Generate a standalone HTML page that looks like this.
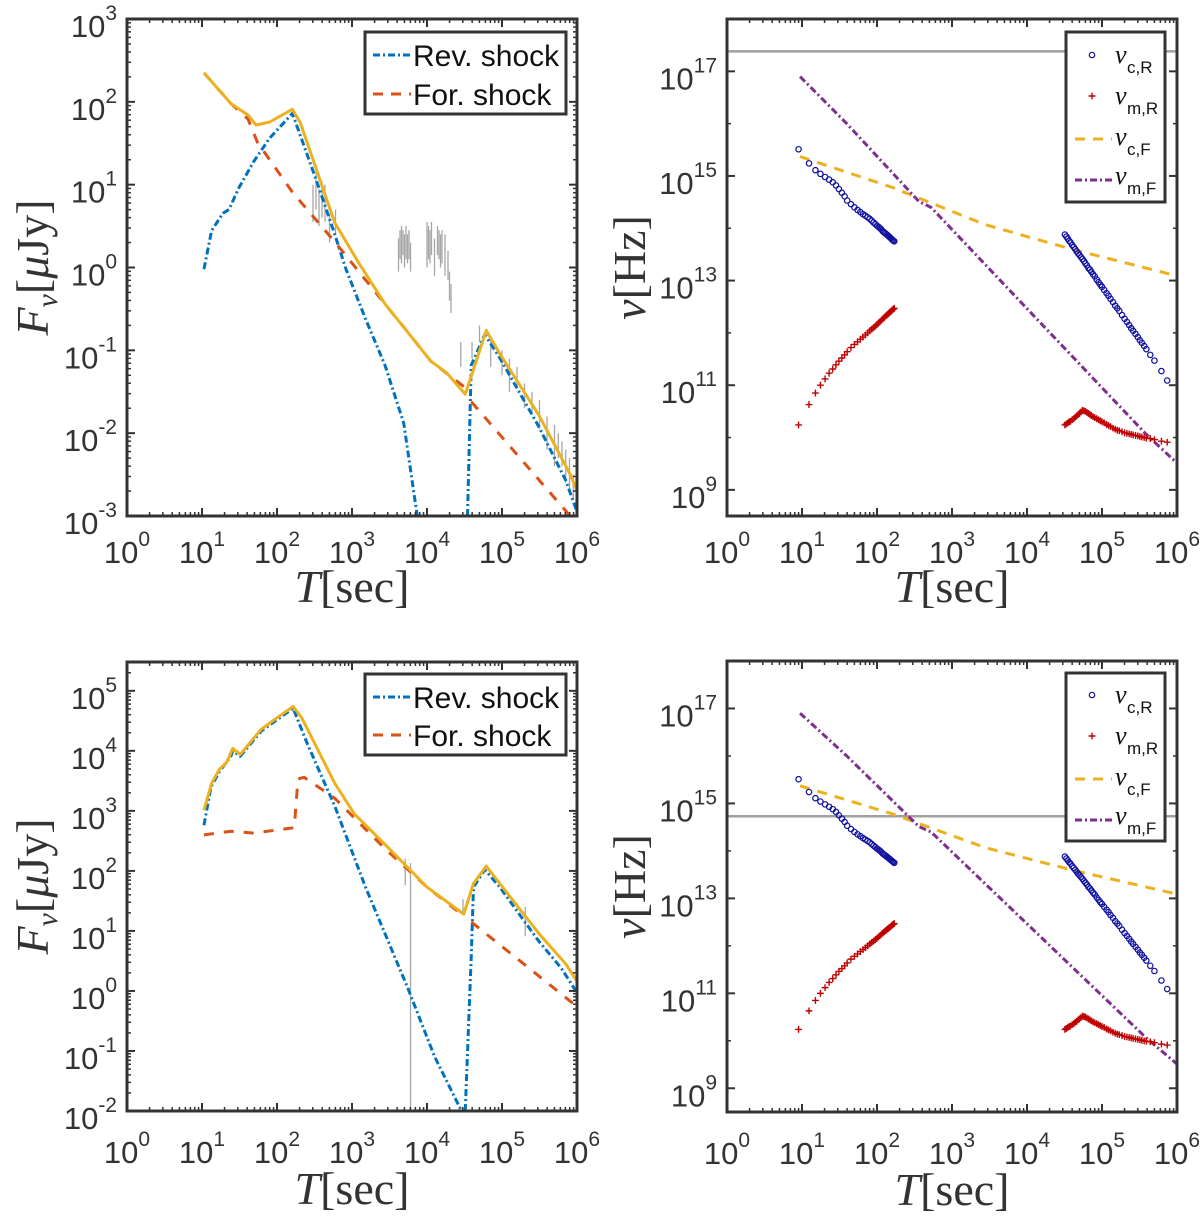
<!DOCTYPE html>
<html><head><meta charset="utf-8"><style>
html,body{margin:0;padding:0;background:#fff;}
svg{display:block;}
</style></head><body>
<svg id="fig" xmlns="http://www.w3.org/2000/svg" width="1200" height="1218" viewBox="0 0 1200 1218"></svg>
<script>
// ---------- DATA (log10 units) ----------
const tlTotX = [1.026,1.385,1.615,1.72,1.90,2.205,2.31,2.77,3.08,3.44,3.69,4.05,4.26,4.51,4.62,4.79,4.97,5.49,5.90,6.0];
const tlTotY = [2.35,1.98,1.84,1.72,1.755,1.91,1.75,0.54,0.07,-0.44,-0.72,-1.13,-1.27,-1.53,-1.23,-0.76,-1.04,-1.78,-2.48,-2.69];
const tlRev1X = [1.026,1.128,1.28,1.36,1.49,1.69,1.90,2.205,2.36,2.56,2.77,2.92,3.18,3.44,3.69,3.87];
const tlRev1Y = [-0.02,0.445,0.655,0.70,0.96,1.28,1.56,1.86,1.47,0.96,0.40,-0.02,-0.62,-1.18,-1.88,-3.0];
const tlRev2X = [4.54,4.59,4.77,4.97,5.49,5.85,6.0];
const tlRev2Y = [-3.0,-1.18,-0.81,-1.09,-1.92,-2.57,-2.95];
const tlForX = [1.026,1.385,1.615,1.74,2.205,2.77,3.44,3.69,4.05,4.51];
const tlForY = [2.35,1.98,1.79,1.51,0.91,0.31,-0.44,-0.72,-1.13,-1.45];
const tlFor2X = [4.59,5.9];
const tlFor2Y = [-1.62,-2.99];
const tlObsX = [2.48,2.52,2.56,2.6,2.64,2.7,2.78,3.62,3.64,3.66,3.68,3.7,3.72,3.74,3.76,3.78,4.0,4.02,4.04,4.06,4.1,4.14,4.16,4.18,4.2,4.24,4.28,4.3,4.32,4.45,4.6,4.7,4.85,5.0,5.1,5.2,5.3,5.4,5.5,5.6,5.7,5.75,5.8,5.85,5.9,5.95];
const tlObsLo = [0.55,0.7,0.5,0.6,0.55,0.3,0.4,-0.05,0.1,0.05,0.15,0.0,0.1,0.05,0.1,-0.05,0.0,0.1,0.05,0.15,-0.1,0.15,0.1,0.0,0.05,-0.1,-0.15,-0.4,-0.55,-1.2,-1.1,-0.9,-1.2,-1.3,-1.5,-1.45,-1.7,-1.75,-1.95,-2.2,-2.4,-2.3,-2.4,-2.6,-2.7,-2.8];
const tlObsHi = [1.0,1.2,0.95,1.05,1.0,0.65,0.7,0.35,0.45,0.5,0.45,0.4,0.5,0.4,0.45,0.3,0.55,0.5,0.45,0.55,0.35,0.5,0.45,0.4,0.45,0.4,0.2,-0.05,-0.2,-0.9,-0.9,-0.7,-0.85,-1.0,-1.1,-1.2,-1.4,-1.5,-1.6,-1.8,-1.9,-2.0,-2.1,-2.2,-2.3,-2.5];
const blTotX = [1.026,1.128,1.23,1.33,1.41,1.51,1.79,2.0,2.215,2.33,2.77,3.03,3.44,4.0,4.49,4.62,4.79,4.97,5.49,5.85,6.0];
const blTotY = [3.01,3.46,3.69,3.81,4.04,3.94,4.36,4.55,4.74,4.55,3.46,2.95,2.44,1.73,1.28,1.79,2.08,1.79,0.96,0.45,0.16];
const blRev1X = [1.026,1.12,1.23,1.385,1.41,1.51,1.79,2.215,2.41,2.77,3.18,3.74,4.1,4.46];
const blRev1Y = [2.76,3.40,3.65,3.91,4.0,3.91,4.33,4.71,4.10,3.08,1.73,0.06,-1.09,-2.0];
const blRev2X = [4.51,4.59,4.62,4.77,4.97,5.49,5.79,6.0];
const blRev2Y = [-2.0,0.58,1.73,2.02,1.73,0.83,0.38,-0.03];
const blForX = [1.026,1.385,1.69,2.23,2.28,2.36,2.77,3.44,4.0,4.49];
const blForY = [2.60,2.66,2.63,2.72,3.53,3.56,3.21,2.37,1.73,1.25];
const blFor2X = [4.59,5.23,6.0];
const blFor2Y = [1.15,0.51,-0.26];
const blObsX = [3.78,3.71,4.48,5.31];
const blObsLo = [-2.0,1.76,1.27,0.91];
const blObsHi = [2.13,2.2,1.53,1.4];
const cr1T = [9,12.4,15.1,17.6,20.3,23,25.7,28.4,31,34,37,40,45,50,55,60,65,70,75,80,85,90,95,100,105,110,115,120,125,130,135,140,145,150,155,160,165,170];
const cr1V = [15.51,15.24,15.11,15.04,14.98,14.93,14.88,14.82,14.75,14.68,14.61,14.53,14.46,14.40,14.35,14.31,14.27,14.24,14.21,14.18,14.145,14.11,14.08,14.05,14.025,14.0,13.97,13.94,13.92,13.9,13.88,13.86,13.84,13.82,13.80,13.78,13.765,13.75];
const mr1V = [10.24,10.63,10.85,11.0,11.12,11.23,11.31,11.39,11.46,11.52,11.58,11.64,11.72,11.78,11.83,11.88,11.92,11.96,12.0,12.04,12.07,12.1,12.13,12.16,12.19,12.22,12.245,12.27,12.295,12.32,12.34,12.36,12.38,12.4,12.42,12.44,12.455,12.47];
const cr2T = [32000,33500,35000,36500,38000,40000,42000,44000,46000,48000,50000,52500,55000,57500,60000,63000,66000,69000,72000,76000,80000,85000,90000,95000,100000,107000,115000,122000,130000,140000,150000,160000,170000,185000,200000,215000,230000,245000,260000,280000,300000,320000,340000,365000,390000,440000,500000,620000,740000];
const cr2V = [13.88,13.84,13.80,13.76,13.73,13.68,13.64,13.60,13.56,13.52,13.49,13.45,13.41,13.37,13.33,13.29,13.24,13.21,13.17,13.12,13.08,13.02,12.97,12.92,12.88,12.82,12.76,12.71,12.65,12.59,12.52,12.47,12.42,12.34,12.27,12.21,12.15,12.09,12.04,11.98,11.92,11.86,11.81,11.75,11.69,11.58,11.47,11.27,11.09];
const mr2V = [10.24,10.26,10.28,10.30,10.31,10.34,10.36,10.39,10.41,10.44,10.46,10.49,10.52,10.51,10.50,10.48,10.46,10.44,10.42,10.40,10.38,10.36,10.34,10.32,10.30,10.28,10.25,10.23,10.21,10.18,10.16,10.14,10.13,10.11,10.09,10.08,10.07,10.06,10.05,10.04,10.03,10.02,10.01,10.00,9.99,9.98,9.96,9.93,9.91];
const mfX = [0.974,1.59,2.205,2.56,2.72,5.59,6.0];
const mfY = [16.90,16.01,15.06,14.51,14.40,10.06,9.51];
const cfX = [0.974,2.205,3.44,4.62,6.0];
const cfY = [15.37,14.78,14.07,13.59,13.09];
const trBand = [17.38];
const brBand = [14.73];
const xTickExp = [0,1,2,3,4,5,6];
const tlYTickExp = [-3,-2,-1,0,1,2,3];
const blYTickExp = [-2,-1,0,1,2,3,4,5];
const rYTickExp = [9,11,13,15,17];

// ---------- DRAWING ----------
const NS='http://www.w3.org/2000/svg';
const fig=document.getElementById('fig');
function el(tag,attrs,parent){const e=document.createElementNS(NS,tag);for(const k in attrs)e.setAttribute(k,attrs[k]);(parent||fig).appendChild(e);return e;}
const AX='#333333';
const C={blue:'#0072BD',red:'#D95319',yel:'#EDB120',pur:'#7E2F8E',navy:'#1010a0',dred:'#c00000',gray:'#a6a6a6'};
let clipId=0;

function makePanel(p){
  const g=el('g',{});
  
  
  const sx=v=>p.L+(v-0)/6*(p.R-p.L);
  const sy=v=>p.T+(p.ymax-v)/(p.ymax-p.ymin)*(p.B-p.T);
  const cid='clip'+(clipId++);
  const cp=el('clipPath',{id:cid},g);el('rect',{x:p.L,y:p.T,width:p.R-p.L,height:p.B-p.T},cp);
  const plot=el('g',{'clip-path':'url(#'+cid+')'},g);
  
  
  p.sx=sx;p.sy=sy;p.plot=plot;p.g=g;
  return p;
}
function polyline(p,xs,ys,color,dash,w,name){
  const pts=xs.map((x,i)=>p.sx(x)+','+p.sy(ys[i])).join(' ');
  const e=el('polyline',{points:pts,fill:'none',stroke:color,'stroke-width':w||3,'stroke-dasharray':dash||'none','stroke-linejoin':'round'},p.plot);
  
  
  return e;
}
function obs(p,xs,lo,hi,name){
  xs.forEach((x,i)=>{
    const e=el('line',{x1:p.sx(x),x2:p.sx(x),y1:p.sy(lo[i]),y2:p.sy(hi[i]),stroke:C.gray,'stroke-width':1.3},p.plot);
    
    
  });
}
function circles(p,ts,vs,name){
  ts.forEach((t,i)=>{
    const e=el('circle',{cx:p.sx(Math.log10(t)),cy:p.sy(vs[i]),r:2.7,fill:'none',stroke:C.navy,'stroke-width':1.2},p.plot);
    
    
  });
}
function pluses(p,ts,vs,name){
  ts.forEach((t,i)=>{
    const x=p.sx(Math.log10(t)),y=p.sy(vs[i]);
    const e=el('path',{d:`M${x-3.4},${y}h6.8M${x},${y-3.4}v6.8`,stroke:C.dred,'stroke-width':1.4,fill:'none'},p.plot);
    
    
  });
}
function hband(p,v,name){
  const e=el('line',{x1:p.L,x2:p.R,y1:p.sy(v),y2:p.sy(v),stroke:'#a0a0a0','stroke-width':2.5},p.plot);
  
  
}
function supText(x,y,exp,anchor,parent,name){
  const t=el('text',{x:x,y:y,'text-anchor':anchor,'font-family':'Liberation Sans, sans-serif','font-size':31,fill:'#333'},parent);
  
  
  const a=el('tspan',{},t);a.textContent='10';
  const b=el('tspan',{dy:-17,'font-size':21},t);b.textContent=String(exp);
  return t;
}
function axes(p){
  const g=p.g;
  for(let d=0;d<6;d++)for(let k=2;k<=9;k++){
    const x=p.sx(d+Math.log10(k));
    el('line',{x1:x,x2:x,y1:p.B,y2:p.B-4,stroke:AX,'stroke-width':1.5},g);
    el('line',{x1:x,x2:x,y1:p.T,y2:p.T+4,stroke:AX,'stroke-width':1.5},g);
  }
  xTickExp.forEach(e=>{
    const x=p.sx(e);
    el('line',{x1:x,x2:x,y1:p.B,y2:p.B-8,stroke:AX,'stroke-width':2},g);
    el('line',{x1:x,x2:x,y1:p.T,y2:p.T+8,stroke:AX,'stroke-width':2},g);
    supText(x,p.B+p.xlab,e,'middle',g,'x-tick-label');
  });
  if(p.ydec){
    for(let d=Math.floor(p.ymin);d<Math.ceil(p.ymax);d++)for(let k=2;k<=9;k++){
      const v=d+Math.log10(k); if(v<=p.ymin||v>=p.ymax)continue;
      const y=p.sy(v);
      el('line',{x1:p.L,x2:p.L+4,y1:y,y2:y,stroke:AX,'stroke-width':1.5},g);
      el('line',{x1:p.R,x2:p.R-4,y1:y,y2:y,stroke:AX,'stroke-width':1.5},g);
    }
  } else {
    for(let v=Math.ceil(p.ymin);v<=p.ymax;v++){
      const y=p.sy(v);
      el('line',{x1:p.L,x2:p.L+4,y1:y,y2:y,stroke:AX,'stroke-width':1.5},g);
      el('line',{x1:p.R,x2:p.R-4,y1:y,y2:y,stroke:AX,'stroke-width':1.5},g);
    }
  }
  p.yticks.forEach(e=>{
    const y=p.sy(e);
    el('line',{x1:p.L,x2:p.L+8,y1:y,y2:y,stroke:AX,'stroke-width':2},g);
    el('line',{x1:p.R,x2:p.R-8,y1:y,y2:y,stroke:AX,'stroke-width':2},g);
    supText(p.L-10,y+18,e,'end',g,'y-tick-label');
  });
  const box=el('rect',{x:p.L,y:p.T,width:p.R-p.L,height:p.B-p.T,fill:'none',stroke:AX,'stroke-width':3},g);
  
  
  const xl=el('text',{x:(p.L+p.R)/2,y:p.B+p.xtitle,'text-anchor':'middle','font-family':'Liberation Serif, serif','font-size':46,fill:'#333'},g);
  
  
  const t1=el('tspan',{'font-style':'italic'},xl);t1.textContent='T';
  const t2=el('tspan',{},xl);t2.textContent='[sec]';
  const yc=(p.T+p.B)/2;
  const yl=el('text',{transform:`translate(${p.L-p.ytitle},${yc}) rotate(-90)`,'text-anchor':'middle','font-family':'Liberation Serif, serif','font-size':46,fill:'#333'},g);
  
  
  if(p.flux){
    const a=el('tspan',{'font-style':'italic'},yl);a.textContent='F';
    const b=el('tspan',{'font-style':'italic','font-size':30,dy:9},yl);b.textContent='ν';
    const c=el('tspan',{dy:-9},yl);c.textContent='[';
    const d=el('tspan',{'font-style':'italic'},yl);d.textContent='μ';
    const e2=el('tspan',{},yl);e2.textContent='Jy]';
  } else {
    const a=el('tspan',{'font-style':'italic'},yl);a.textContent='ν';
    const b=el('tspan',{},yl);b.textContent='[Hz]';
  }
}
function legendFlux(p,x,y,w,h,r1,r2){
  const g=el('g',{},p.g);
  
  
  el('rect',{x:x,y:y,width:w,height:h,fill:'#fff',stroke:AX,'stroke-width':3},g);
  const rows=[[r1,C.blue,'7,3,2,3','Rev. shock'],[r2,C.red,'10,8','For. shock']];
  rows.forEach(r=>{
    const e=el('g',{},g);
    
    
    el('line',{x1:x+8,x2:x+46,y1:r[0],y2:r[0],stroke:r[1],'stroke-width':3,'stroke-dasharray':r[2]},e);
    const t=el('text',{x:x+48,y:r[0]+11,'font-family':'Liberation Sans, sans-serif','font-size':30,fill:'#111'},e);t.textContent=r[3];
  });
}
function legendFreq(p,x,y,w,h,rows){
  const g=el('g',{},p.g);
  
  
  el('rect',{x:x,y:y,width:w,height:h,fill:'#fff',stroke:AX,'stroke-width':3},g);
  const subs=['c,R','m,R','c,F','m,F'];
  rows.forEach((ry,i)=>{
    const e=el('g',{},g);
    
    
    const mx=x+26;
    if(i===0) el('circle',{cx:mx,cy:ry,r:2.7,fill:'none',stroke:C.navy,'stroke-width':1.2},e);
    if(i===1) el('path',{d:`M${mx-3.4},${ry}h6.8M${mx},${ry-3.4}v6.8`,stroke:C.dred,'stroke-width':1.4},e);
    if(i===2) el('line',{x1:x+9,x2:x+46,y1:ry+2,y2:ry+2,stroke:C.yel,'stroke-width':3,'stroke-dasharray':'10,8'},e);
    if(i===3) el('line',{x1:x+9,x2:x+46,y1:ry+4,y2:ry+4,stroke:C.pur,'stroke-width':3,'stroke-dasharray':'7,3,2,3'},e);
    const t=el('text',{x:x+49,y:ry+8,'font-family':'Liberation Serif, serif','font-size':26,'font-style':'italic',fill:'#111'},e);t.textContent='ν';
    const s=el('text',{x:x+61,y:ry+18,'font-family':'Liberation Sans, sans-serif','font-size':17,fill:'#111'},e);s.textContent=subs[i];
  });
}

const TL=makePanel({name:'panel-top-left',L:127,R:577,T:19,B:516,ymin:-3,ymax:3,yticks:tlYTickExp,ydec:true,xlab:47,xtitle:86,ytitle:79,flux:true});
obs(TL,tlObsX,tlObsLo,tlObsHi,'observed-data');
polyline(TL,tlRev1X,tlRev1Y,C.blue,'7,3,2,3',3,'rev-shock-line');
polyline(TL,tlRev2X,tlRev2Y,C.blue,'7,3,2,3',3,'rev-shock-line');
polyline(TL,tlForX,tlForY,C.red,'10,10',3,'for-shock-line');
polyline(TL,tlFor2X,tlFor2Y,C.red,'10,10',3,'for-shock-line');
polyline(TL,tlTotX,tlTotY,C.yel,null,3,'total-flux-line');
axes(TL);
legendFlux(TL,365,32,201,82,55,94);

const BL=makePanel({name:'panel-bottom-left',L:127,R:577,T:662,B:1111,ymin:-2,ymax:5.48,yticks:blYTickExp,ydec:true,xlab:52,xtitle:93,ytitle:79,flux:true});
obs(BL,blObsX,blObsLo,blObsHi,'observed-data');
polyline(BL,blRev1X,blRev1Y,C.blue,'7,3,2,3',3,'rev-shock-line');
polyline(BL,blRev2X,blRev2Y,C.blue,'7,3,2,3',3,'rev-shock-line');
polyline(BL,blForX,blForY,C.red,'10,10',3,'for-shock-line');
polyline(BL,blFor2X,blFor2Y,C.red,'10,10',3,'for-shock-line');
polyline(BL,blTotX,blTotY,C.yel,null,3,'total-flux-line');
axes(BL);
legendFlux(BL,365,674,201,81,697,735);

function freqPanel(p,band,legY,legRows,legH){
  hband(p,band,'observing-frequency-line');
  polyline(p,cfX,cfY,C.yel,'10,8',3,'nu-c-f-line');
  polyline(p,mfX,mfY,C.pur,'7,3,2,3',3,'nu-m-f-line');
  circles(p,cr1T,cr1V,'nu-c-r-marker');
  circles(p,cr2T,cr2V,'nu-c-r-marker');
  pluses(p,cr1T,mr1V,'nu-m-r-marker');
  pluses(p,cr2T,mr2V,'nu-m-r-marker');
  axes(p);
  legendFreq(p,1066,legY,99,legH,legRows);
}
const TR=makePanel({name:'panel-top-right',L:727,R:1177,T:19,B:516,ymin:8.5,ymax:18,yticks:rYTickExp,ydec:false,xlab:47,xtitle:86,ytitle:82,flux:false});
freqPanel(TR,trBand[0],32,[55,96,137,176],170);
const BR=makePanel({name:'panel-bottom-right',L:727,R:1177,T:661,B:1112,ymin:8.5,ymax:18,yticks:rYTickExp,ydec:false,xlab:52,xtitle:93,ytitle:82,flux:false});
freqPanel(BR,brBand[0],673,[695,736,777,816],168);
</script>
</body></html>
